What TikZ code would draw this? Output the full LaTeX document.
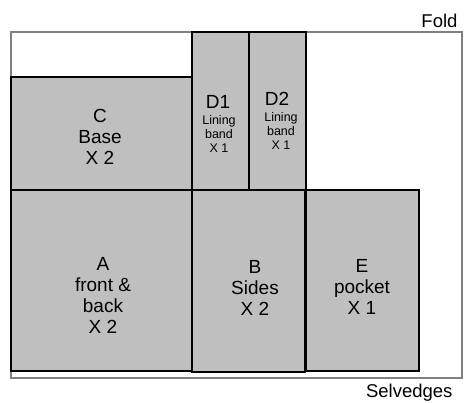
\documentclass[tikz,border=0pt]{standalone}
\usepackage{fontspec}
\setmainfont{Liberation Sans}
\begin{document}
\begin{tikzpicture}[x=1pt,y=-1pt,
  piece/.style={draw=black,line width=1.6pt,fill=black!25},
  big/.style={font=\fontsize{19}{21}\selectfont,align=center},
  small/.style={font=\fontsize{12.5}{14}\selectfont,align=center},
  lab/.style={font=\fontsize{18.5}{20}\selectfont,anchor=east}]
\useasboundingbox (0,0) rectangle (464,403);
\draw[draw=black!50,line width=1.6pt] (11,32) rectangle (462,378);
\path[piece] (11,77) rectangle (192,190);
\path[piece] (192,32) rectangle (249,190);
\path[piece] (249,32) rectangle (306,190);
\path[piece] (11,190) rectangle (192,371);
\path[piece] (192,190) rectangle (305,372);
\path[piece] (306,190) rectangle (419,371);
\node[big] (c) at (100,137) {C\\Base\\X 2};
\node[big] (a) at (103,295) {A\\front \&\\back\\X 2};
\node[big] (b) at (255,288) {B\\Sides\\X 2};
\node[big] (e) at (362,287) {E\\pocket\\X 1};
\node[big,inner sep=0pt] (d1t) at (218,102) {D1};
\node[small,inner sep=0pt,anchor=north] (d1) at (219,115) {Lining\\band\\X 1};
\node[big,inner sep=0pt] (d2t) at (277,99) {D2};
\node[small,inner sep=0pt,anchor=north] (d2) at (281,112) {Lining\\band\\X 1};
\node[lab] (fold) at (461,21) {Fold};
\node[lab] (selv) at (456,393) {Selvedges};
\end{tikzpicture}
\end{document}
